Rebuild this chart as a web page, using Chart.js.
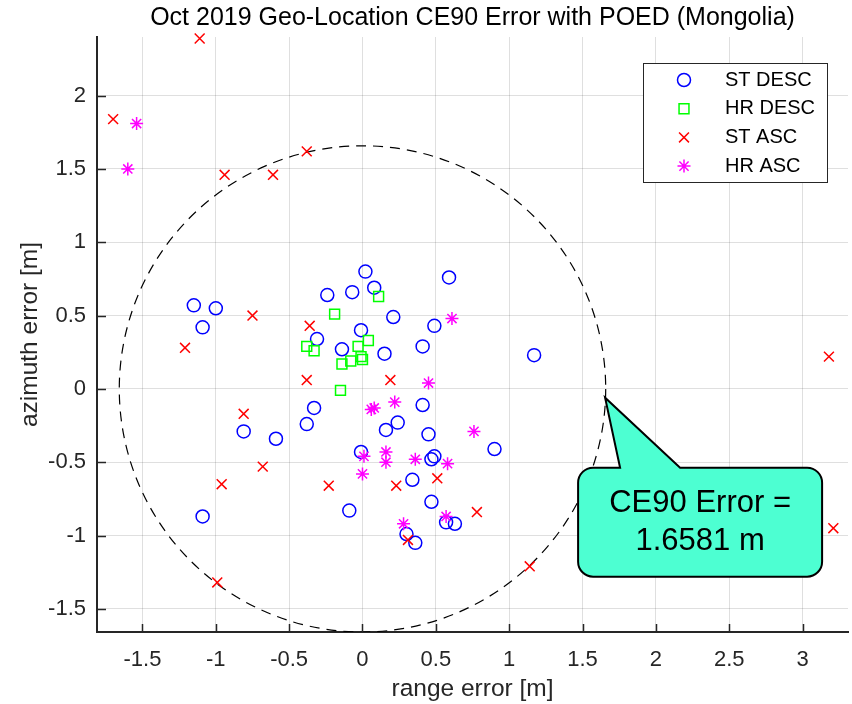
<!DOCTYPE html>
<html>
<head>
<meta charset="utf-8">
<title>CE90 Error with POED (Mongolia)</title>
<script src="https://cdn.jsdelivr.net/npm/chart.js@4.4.0/dist/chart.umd.min.js"></script>
<style>
  body { margin: 0; background: #fff; }
  #chart { display: block; }
</style>
</head>
<body>
<canvas id="chart" width="852" height="704"></canvas>
<script>
// --- DATA (metres) ---
const stDescX = [-1.15, -1.00, -1.09, -0.31, -0.24, -0.07, 0.02, 0.08, 0.21, -0.01, -0.14, 0.15,
                 0.41, 0.49, 0.59, 1.17, -0.33, -0.38, -0.81, -0.59, 0.41, 0.16, 0.24, 0.45,
                 -1.09, -0.09, -0.01, 0.47, 0.49, 0.34, 0.47, 0.30, 0.36, 0.90, 0.57, 0.63];
const stDescY = [0.57, 0.55, 0.42, 0.34, 0.64, 0.66, 0.80, 0.69, 0.49, 0.40, 0.27, 0.24,
                 0.29, 0.43, 0.76, 0.23, -0.13, -0.24, -0.29, -0.34, -0.11, -0.28, -0.23, -0.31,
                 -0.87, -0.83, -0.43, -0.48, -0.46, -0.62, -0.77, -0.99, -1.05, -0.41, -0.91, -0.92];

const hrDescX = [-0.38, -0.33, -0.19, 0.11, 0.04, -0.03, -0.08, -0.01, 0.00, -0.14, -0.15];
const hrDescY = [0.29, 0.26, 0.51, 0.63, 0.33, 0.29, 0.19, 0.22, 0.20, 0.17, -0.01];

const stAscX = [-1.11, -1.70, -0.94, -0.61, -0.38, -0.75, -1.21, -0.36, -0.38, 0.19, -0.81,
                -0.68, -0.96, -0.99, -0.23, 0.23, 0.31, 0.51, 0.78, 1.14, 3.21, 3.18];
const stAscY = [2.39, 1.84, 1.46, 1.46, 1.62, 0.50, 0.28, 0.43, 0.06, 0.06, -0.17,
                -0.53, -0.65, -1.32, -0.66, -0.66, -1.03, -0.61, -0.84, -1.21, -0.95, 0.22];

const hrAscX = [-1.54, -1.60, 0.61, 0.45, 0.06, 0.08, 0.22, 0.01, 0.00, 0.16, 0.16,
                0.36, 0.76, 0.58, 0.57, 0.28];
const hrAscY = [1.81, 1.50, 0.48, 0.04, -0.14, -0.13, -0.09, -0.46, -0.58, -0.43, -0.50,
                -0.48, -0.29, -0.51, -0.87, -0.92];

const seriesNames = ['ST DESC', 'HR DESC', 'ST ASC', 'HR ASC'];

const ce90 = 1.6581;             // radius of the CE90 circle
const calloutTip = [1.654, -0.06]; // where the callout points

const xTicks = [-1.5, -1, -0.5, 0, 0.5, 1, 1.5, 2, 2.5, 3];
const yTicks = [-1.5, -1, -0.5, 0, 0.5, 1, 1.5, 2];
const xRange = [-1.81, 3.31];
const yRange = [-1.658, 2.40];

// --- HELPERS ---
const FONT = '"Liberation Sans", Arial, Helvetica, sans-serif';
const AXIS_COLOR = '#262626';

const toPoints = (xs, ys) => xs.map((x, i) => ({ x: x, y: ys[i] }));

function drawMarker(ctx, style, x, y, r, color) {
    ctx.save();
    ctx.strokeStyle = color;
    ctx.lineWidth = 1.5;
    ctx.beginPath();
    if (style === 'circle') {
        ctx.arc(x, y, r, 0, Math.PI * 2);
    } else if (style === 'rect') {
        const s = r * Math.SQRT1_2;
        ctx.rect(x - s, y - s, 2 * s, 2 * s);
    } else if (style === 'crossRot') {
        const d = r * Math.SQRT1_2;
        ctx.moveTo(x - d, y - d); ctx.lineTo(x + d, y + d);
        ctx.moveTo(x - d, y + d); ctx.lineTo(x + d, y - d);
    } else if (style === 'star') {
        const d = r * Math.SQRT1_2;
        ctx.moveTo(x - r, y); ctx.lineTo(x + r, y);
        ctx.moveTo(x, y - r); ctx.lineTo(x, y + r);
        ctx.moveTo(x - d, y - d); ctx.lineTo(x + d, y + d);
        ctx.moveTo(x - d, y + d); ctx.lineTo(x + d, y - d);
    }
    ctx.stroke();
    ctx.restore();
}

// --- PLUGINS ---
// dashed CE90 circle, drawn under the markers
const ce90Circle = {
    id: 'ce90Circle',
    beforeDatasetsDraw(chart) {
        const { ctx, chartArea, scales: { x, y } } = chart;
        const cx = x.getPixelForValue(0);
        const cy = y.getPixelForValue(0);
        const rx = x.getPixelForValue(ce90) - cx;
        const ry = cy - y.getPixelForValue(ce90);
        ctx.save();
        ctx.beginPath();
        ctx.rect(chartArea.left, chartArea.top, chartArea.width, chartArea.height);
        ctx.clip();
        ctx.beginPath();
        ctx.setLineDash([10, 7]);
        ctx.lineWidth = 1.2;
        ctx.strokeStyle = '#000';
        ctx.ellipse(cx, cy, rx, ry, 0, 0, Math.PI * 2);
        ctx.stroke();
        ctx.restore();
    }
};

// MATLAB style inward tick marks
const innerTicks = {
    id: 'innerTicks',
    afterDatasetsDraw(chart) {
        const { ctx, chartArea, scales: { x, y } } = chart;
        ctx.save();
        ctx.strokeStyle = AXIS_COLOR;
        ctx.lineWidth = 1.5;
        ctx.beginPath();
        xTicks.forEach(v => {
            const px = Math.round(x.getPixelForValue(v)) + 0.5;
            ctx.moveTo(px, chartArea.bottom);
            ctx.lineTo(px, chartArea.bottom - 8);
        });
        yTicks.forEach(v => {
            const py = Math.round(y.getPixelForValue(v)) + 0.5;
            ctx.moveTo(chartArea.left, py);
            ctx.lineTo(chartArea.left + 9, py);
        });
        ctx.stroke();
        ctx.restore();
    }
};

// legend box in the upper right
const boxLegend = {
    id: 'boxLegend',
    afterDraw(chart) {
        const { ctx } = chart;
        const left = 643, top = 63, w = 184, h = 119;
        ctx.save();
        ctx.fillStyle = '#fff';
        ctx.fillRect(left, top, w, h);
        ctx.strokeStyle = AXIS_COLOR;
        ctx.lineWidth = 1;
        ctx.strokeRect(left + 0.5, top + 0.5, w, h);
        ctx.font = '20px ' + FONT;
        ctx.fillStyle = '#000';
        ctx.textAlign = 'left';
        ctx.textBaseline = 'middle';
        chart.data.datasets.forEach((ds, i) => {
            const rowY = top + 17 + i * 28.7;
            drawMarker(ctx, ds.pointStyle, left + 41, rowY, ds.pointRadius, ds.pointBorderColor);
            ctx.fillText(ds.label, left + 82, rowY);
        });
        ctx.restore();
    }
};

// speech-bubble callout with the CE90 value
const ce90Callout = {
    id: 'ce90Callout',
    afterDraw(chart) {
        const { ctx, scales: { x, y } } = chart;
        const tx = x.getPixelForValue(calloutTip[0]);
        const ty = y.getPixelForValue(calloutTip[1]);
        const left = tx - 27, right = tx + 217, top = ty + 70, bottom = ty + 179, r = 15;
        const baseL = tx + 15, baseR = tx + 75;
        ctx.save();
        ctx.beginPath();
        ctx.moveTo(left + r, top);
        ctx.lineTo(baseL, top);
        ctx.lineTo(tx, ty);
        ctx.lineTo(baseR, top);
        ctx.lineTo(right - r, top);
        ctx.arcTo(right, top, right, top + r, r);
        ctx.lineTo(right, bottom - r);
        ctx.arcTo(right, bottom, right - r, bottom, r);
        ctx.lineTo(left + r, bottom);
        ctx.arcTo(left, bottom, left, bottom - r, r);
        ctx.lineTo(left, top + r);
        ctx.arcTo(left, top, left + r, top, r);
        ctx.closePath();
        ctx.fillStyle = '#4dffd2';
        ctx.fill();
        ctx.lineWidth = 2;
        ctx.strokeStyle = '#000';
        ctx.stroke();
        ctx.fillStyle = '#000';
        ctx.font = '31px ' + FONT;
        ctx.textAlign = 'center';
        ctx.textBaseline = 'middle';
        const cx = (left + right) / 2, cy = (top + bottom) / 2;
        ctx.fillText('CE90 Error =', cx, cy - 19);
        ctx.fillText(ce90.toFixed(4) + ' m', cx, cy + 19);
        ctx.restore();
    }
};

// --- CHART ---
function markerSet(label, xs, ys, style, radius, color, order) {
    return {
        label: label,
        data: toPoints(xs, ys),
        pointStyle: style,
        pointRadius: radius,
        pointHoverRadius: radius,
        pointBorderColor: color,
        pointBackgroundColor: 'rgba(0,0,0,0)',
        pointBorderWidth: 1.5,
        pointHoverBorderWidth: 1.5,
        showLine: false,
        clip: false,
        order: order
    };
}

new Chart(document.getElementById('chart'), {
    type: 'scatter',
    data: {
        datasets: [
            markerSet(seriesNames[0], stDescX, stDescY, 'circle', 6.5, '#0000ff', 3),
            markerSet(seriesNames[1], hrDescX, hrDescY, 'rect', 7, '#00ff00', 2),
            markerSet(seriesNames[2], stAscX, stAscY, 'crossRot', 7, '#ff0000', 1),
            markerSet(seriesNames[3], hrAscX, hrAscY, 'star', 6.5, '#ff00ff', 0)
        ]
    },
    options: {
        responsive: false,
        animation: false,
        events: [],
        devicePixelRatio: 1,
        // autoPadding would reserve marker room on the right edge
        layout: { autoPadding: false, padding: { left: 0, right: 4, top: 0, bottom: 0 } },
        scales: {
            x: {
                type: 'linear',
                min: xRange[0],
                max: xRange[1],
                afterBuildTicks: axis => { axis.ticks = xTicks.map(v => ({ value: v })); },
                afterFit: axis => {
                    axis.height = 72;
                    axis.paddingLeft = 0;
                    axis.paddingRight = 0;
                },
                ticks: {
                    autoSkip: false,
                    maxRotation: 0,
                    padding: 15,
                    color: AXIS_COLOR,
                    font: { family: FONT, size: 22 },
                    callback: v => String(v)
                },
                grid: { color: 'rgba(38,38,38,0.15)', lineWidth: 1, drawTicks: false },
                border: { display: true, color: AXIS_COLOR, width: 2 },
                title: {
                    display: true,
                    text: 'range error [m]',
                    color: AXIS_COLOR,
                    font: { family: FONT, size: 24.5 },
                    padding: { top: 0, bottom: 0 }
                }
            },
            y: {
                type: 'linear',
                min: yRange[0],
                max: yRange[1],
                afterBuildTicks: axis => { axis.ticks = yTicks.map(v => ({ value: v })); },
                afterFit: axis => { axis.width = 97; },
                ticks: {
                    autoSkip: false,
                    padding: 11,
                    color: AXIS_COLOR,
                    font: { family: FONT, size: 22 },
                    callback: v => String(v)
                },
                grid: { color: 'rgba(38,38,38,0.15)', lineWidth: 1, drawTicks: false },
                border: { display: true, color: AXIS_COLOR, width: 2 },
                title: {
                    display: true,
                    text: 'azimuth error [m]',
                    color: AXIS_COLOR,
                    font: { family: FONT, size: 24.5 },
                    padding: { top: 16, bottom: 0 }
                }
            }
        },
        plugins: {
            legend: { display: false },
            tooltip: { enabled: false },
            title: {
                display: true,
                fullSize: false,
                text: 'Oct 2019 Geo-Location CE90 Error with POED (Mongolia)',
                color: '#000',
                font: { family: FONT, size: 25, weight: 'normal' },
                padding: { top: 3, bottom: 4 }
            }
        }
    },
    plugins: [ce90Circle, innerTicks, boxLegend, ce90Callout]
});
</script>
</body>
</html>
